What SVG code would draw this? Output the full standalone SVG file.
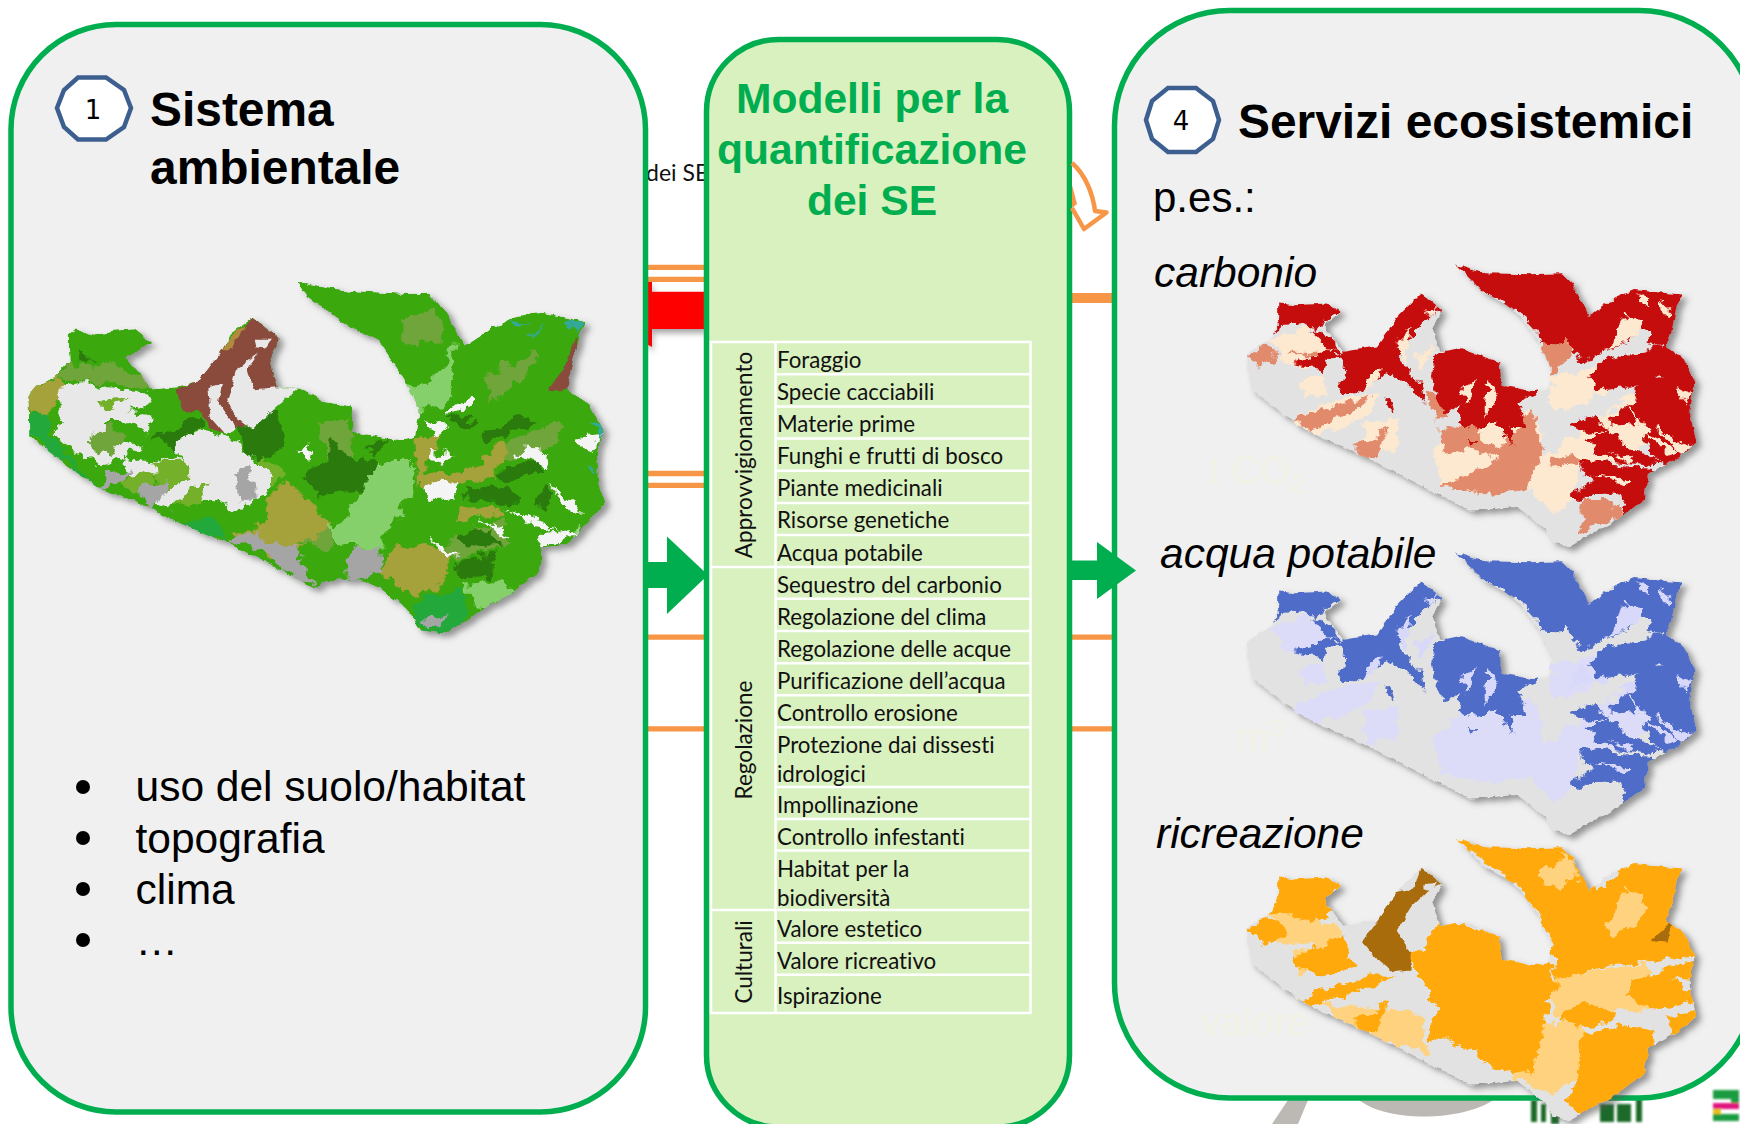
<svg xmlns="http://www.w3.org/2000/svg" xmlns:xlink="http://www.w3.org/1999/xlink" width="1740" height="1124" viewBox="0 0 1740 1124">
<style>
text{font-family:"Liberation Sans",Arial,sans-serif;fill:#000}
.panel{stroke:#00ae50;stroke-width:5.5;fill:#f0f0f0}
.h1{font-weight:700;font-size:47.9px}
.g{font-weight:700;font-size:42.6px;fill:#00ae50;text-anchor:middle}
.it{font-style:italic;font-size:42.5px}
.li{font-size:42.5px}
.faint{font-size:40px;fill:#f2f1e5}
.num{font-family:"DejaVu Sans",sans-serif;font-size:26px;text-anchor:middle}
.oct{fill:#fff;stroke:#3c5f8f;stroke-width:4.5}
.t{font-family:Lato,"Open Sans",sans-serif;font-size:22.3px;fill:#111;font-variant-ligatures:none}
.tr{text-anchor:middle;font-size:22.5px}
.grid{stroke:#fff;stroke-width:2.5;fill:none}
.o{stroke:#f79646;stroke-width:5.3;fill:none}
</style>
<defs>
<filter id="ds" x="-5%" y="-5%" width="112%" height="115%"><feDropShadow dx="5" dy="4" stdDeviation="3" flood-color="#555" flood-opacity=".6"/></filter>
<filter id="rs" x="-10%" y="-10%" width="120%" height="130%"><feDropShadow dx="1" dy="4" stdDeviation="3" flood-color="#555" flood-opacity=".55"/></filter>
<filter id="b1" x="-10%" y="-10%" width="120%" height="120%"><feGaussianBlur stdDeviation="1"/></filter>
<filter id="rough" x="-5%" y="-5%" width="110%" height="110%"><feTurbulence type="fractalNoise" baseFrequency=".028" numOctaves="3" seed="4"/><feDisplacementMap in="SourceGraphic" scale="42" xChannelSelector="R" yChannelSelector="G"/></filter>
<filter id="edge" x="-3%" y="-3%" width="106%" height="106%"><feTurbulence type="fractalNoise" baseFrequency=".05" numOctaves="2" seed="9"/><feDisplacementMap in="SourceGraphic" scale="14" xChannelSelector="R" yChannelSelector="G"/></filter>
<polygon id="outA" points="706,672 780,685 850,692 960,698 1020,698 1060,740 1105,822 1170,780 1225,750 1290,743 1392,765 1375,800 1365,840 1345,925 1400,960 1430,1020 1418,1100 1422,1150 1438,1195 1395,1245 1345,1295 1290,1300 1280,1360 1215,1410 1150,1445 1115,1470 1060,1505 1000,1498 970,1450 900,1395 860,1380 800,1375 745,1395 640,1340 540,1290 420,1240 330,1195 245,1165 150,1100 70,1035 67,930 130,895 165,860 163,795 180,780 220,795 270,785 320,782 360,815 300,850 320,875 360,925 420,920 465,910 530,830 550,790 600,755 665,805 640,850 660,920 710,920 770,955 835,965 838,1025 950,1048 985,1040 997,975 960,900 900,810 830,775 780,740 730,705"/>
<clipPath id="clipA"><use xlink:href="#outA"/></clipPath>
<polygon id="outB" points="850,742 920,765 1040,768 1118,765 1145,795 1185,885 1240,840 1300,812 1420,825 1405,870 1395,930 1380,975 1420,1000 1455,1070 1440,1150 1458,1240 1400,1290 1335,1330 1325,1400 1250,1460 1170,1510 1140,1530 1095,1520 1075,1480 1005,1420 950,1425 885,1430 760,1360 620,1280 480,1210 400,1150 328,1085 320,990 385,945 400,905 400,850 440,855 520,850 558,875 515,910 565,985 650,970 700,890 760,822 815,870 790,920 810,985 860,975 960,1015 965,1080 1045,1095 1085,1090 1090,1030 1060,960 1000,870 920,820"/>
<clipPath id="clipB"><use xlink:href="#outB"/></clipPath>
<g id="forest">
<polygon points="830,725 1130,740 1210,885 1160,890 1140,930 1115,965 1060,960 1035,900 1000,870 920,820"/>
<polygon points="1130,940 1150,880 1240,830 1300,795 1440,810 1415,870 1405,930 1395,975 1340,960 1320,900 1285,960 1210,990 1170,1010 1145,990"/>
<polygon points="1215,1010 1380,965 1430,990 1470,1060 1425,1080 1370,1050 1330,1075 1290,1080 1215,1100 1185,1060"/>
<polygon points="1330,1060 1470,1050 1470,1250 1400,1300 1360,1285 1320,1225 1345,1200 1300,1170 1290,1130 1240,1160 1250,1195 1300,1190 1280,1120"/>
<polygon points="1170,1230 1240,1200 1280,1250 1370,1290 1340,1305 1250,1290"/>
<polygon points="1160,1290 1250,1300 1350,1315 1340,1415 1270,1470 1260,1380 1210,1380 1150,1405 1145,1380 1190,1350"/>
<polygon points="795,990 860,960 975,1000 980,1075 1060,1090 1010,1130 1030,1190 985,1190 1000,1250 960,1180 900,1210 860,1180 855,1130 820,1160 790,1060"/>
<polygon points="555,985 640,965 695,885 760,805 830,865 790,880 745,930 705,1000 745,1050 775,1135 720,1070 680,1040 640,1070 590,1105 545,1090 565,1040"/>
<polygon points="385,835 440,840 535,835 572,875 510,895 490,925 430,905 390,930"/>
<polygon points="480,920 520,940 565,985 530,975"/>
<polygon points="445,1020 530,980 560,985 500,1035"/>
<polygon points="660,1110 690,1120 700,1160 680,1140"/>
<polygon points="1140,1190 1200,1170 1240,1200 1170,1210"/>
<polygon points="880,1220 905,1230 890,1250"/>
<polygon points="975,1190 1000,1240 970,1220"/>
</g>
<g id="speck">
<polygon points="1255,1120 1310,1090 1300,1130"/><polygon points="1320,1210 1410,1260 1390,1275"/><polygon points="1350,1195 1440,1250 1420,1270"/><polygon points="1200,1100 1240,1070 1230,1110"/><polygon points="1410,1090 1445,1100 1430,1130"/><polygon points="1190,1330 1290,1345 1280,1360"/><polygon points="1230,1260 1300,1280 1290,1295"/><polygon points="860,1090 900,1060 880,1130"/><polygon points="930,1050 950,1120 920,1170"/><polygon points="700,970 730,920 720,1010"/><polygon points="745,1000 790,960 760,1040"/><polygon points="620,1060 665,1030 630,1090"/><polygon points="1310,830 1340,830 1330,860"/><polygon points="1370,840 1395,860 1380,890"/><polygon points="770,870 805,865 785,885"/>
<polygon points="1130,1120 1160,1050 1200,1100"/><polygon points="1290,880 1330,900 1280,960 1230,980"/>
</g>
<g id="mid">
<polygon points="385,945 470,920 560,985 480,1040 400,1000"/>
<polygon points="1060,1290 1170,1210 1280,1120 1340,1070 1400,1090 1300,1290 1170,1300 1140,1400 1100,1440 1030,1360"/>
<polygon points="800,1260 860,1190 960,1180 1030,1150 1070,1200 1060,1350 950,1390 810,1360"/>
<polygon points="1060,850 1075,820 1115,810 1120,775 1150,800 1150,850 1110,880 1070,870"/>
<polygon points="1090,1060 1210,1020 1190,1130 1100,1150"/>
<polygon points="450,1070 500,1050 530,1100 470,1120"/>
<polygon points="430,1180 520,1130 660,1100 620,1170 500,1220"/>
<polygon points="610,1190 700,1170 690,1260 620,1280"/>
</g>
<g id="high">
<polygon points="1070,960 1135,940 1140,1000 1090,1060 1060,1000"/>
<polygon points="320,990 370,965 400,1010 340,1030"/>
<polygon points="770,1090 800,1100 830,1170 800,1180"/>
<polygon points="800,1210 880,1190 960,1260 1040,1150 1070,1260 1030,1360 950,1390 810,1360 870,1330 960,1290 880,1260 830,1270"/>
<polygon points="1170,1400 1240,1400 1270,1450 1170,1490"/>
<polygon points="440,1170 640,1110 600,1150 480,1205"/>
<polygon points="590,1250 680,1200 650,1280 610,1280"/>
<polygon points="1080,1290 1150,1270 1170,1300 1090,1310"/>
<polygon points="430,985 540,985 470,1000"/>
</g>
</defs>

<g id="background-fragments">
<polygon points="1288,1100 1308,1100 1298,1124 1272,1124" fill="#bcb8b4"/>
<path d="M1359,1100H1493C1465,1120 1390,1124 1359,1100Z" fill="#bcb8b4"/>
<g fill="#1d6b2b" filter="url(#b1)"><rect x="1531" y="1100" width="6" height="22"/><rect x="1541" y="1104" width="5" height="18"/><rect x="1551" y="1104" width="8" height="20"/><rect x="1600" y="1104" width="14" height="18"/><rect x="1617" y="1104" width="14" height="18"/><rect x="1636" y="1098" width="6" height="24"/></g>
<g filter="url(#b1)"><rect x="1713" y="1090" width="26" height="9" fill="#1f9c3f"/><rect x="1731" y="1099" width="8" height="6" fill="#1f9c3f"/><rect x="1713" y="1103" width="26" height="6" fill="#e0157e"/><rect x="1713" y="1109" width="8" height="5" fill="#e8c21a"/><rect x="1713" y="1114" width="26" height="7" fill="#1f9c3f"/></g>
</g>

<text x="646" y="180.500" class="t" style="font-size:23px">dei SE</text>

<g id="connectors">
<g class="o">
<path d="M646 267.300H706M646 279.300H706M646 473.500H706M646 485.300H706M646 637.200H706M646 728.800H706"/>
<path d="M1070 298H1115" stroke-width="10"/>
<path d="M1070 637.200H1115M1070 728.800H1115"/>
</g>
<g filter="url(#rs)"><path d="M648 282H652V291.700H706V329H652V347L648 345Z" fill="#f00"/></g>
</g>

<g id="node-1">
<rect class="panel" x="11" y="24.500" width="634.500" height="1087.500" rx="105" ry="105"/>
<polygon class="oct" points="78,77.500 106,77.500 124,90 131,108 124,127 106,139.500 78,139.500 64,127 57,108 64,90"/>
<text class="num" x="93" y="119">1</text>
<text class="h1" x="150" y="126">Sistema</text>
<text class="h1" x="150" y="184">ambientale</text>
<g filter="url(#ds)"><g transform="scale(.4209)"><g filter="url(#edge)"><g clip-path="url(#clipA)">
<use xlink:href="#outA" fill="#3aa80e"/>
<g filter="url(#rough)">
<g fill="#22a83a"><polygon points="70,975 110,990 125,1040 180,1100 245,1165 150,1100 70,1035"/><polygon points="1010,1420 1100,1400 1115,1470 1060,1505 1000,1498 970,1450"/><polygon points="420,1240 500,1230 540,1290"/></g>
<g fill="#6fa53a"><polygon points="165,870 250,860 300,880 340,900 360,925 200,905 130,895"/><polygon points="1190,1060 1330,1000 1340,1020 1280,1080 1200,1090"/><polygon points="1150,900 1270,830 1280,870 1160,960"/><polygon points="950,770 1040,725 1050,810 960,820"/><polygon points="750,1000 830,1000 840,1090 780,1090"/><polygon points="640,1190 790,1250 800,1300 720,1300"/><polygon points="1040,1300 1190,1230 1210,1300 1080,1330"/></g>
<g fill="#a5a13b"><polygon points="67,930 130,895 170,920 130,960 110,990 70,970"/><polygon points="630,1190 680,1140 750,1200 790,1250 740,1290 640,1280"/><polygon points="900,1360 930,1300 1010,1290 1070,1320 1060,1380 990,1420 950,1400"/><polygon points="1000,1130 1180,1100 1180,1140 1000,1155"/><polygon points="1090,1210 1180,1200 1190,1220 1080,1240"/><polygon points="1150,1080 1200,1050 1200,1100 1150,1105"/><polygon points="990,1040 1050,1030 1010,1130 990,1160"/><polygon points="560,1260 640,1240 720,1300 640,1330"/></g>
<g fill="#e8e8e8"><polygon points="135,920 200,905 260,925 355,930 365,950 300,975 350,975 370,1000 340,1030 290,1000 240,1000 300,1050 340,1060 300,1085 240,1110 190,1085 130,1040 150,990"/><polygon points="400,1055 480,1020 560,1040 600,1090 650,1130 630,1180 560,1210 510,1190 450,1180 400,1210 370,1190 440,1140 380,1130 350,1100 430,1085"/><polygon points="290,1090 380,1100 370,1130 300,1130"/></g>
<g fill="#74b02a"><polygon points="360,1100 440,1090 450,1130 400,1170 365,1150"/><polygon points="590,1040 640,1090 680,1130 650,1150 620,1100"/><polygon points="440,1170 500,1140 470,1190 420,1205"/><polygon points="280,1140 360,1120 360,1165 300,1170"/><polygon points="220,950 300,945 250,980"/></g>
<polygon points="215,1040 250,1005 300,1040 270,1080 225,1070" fill="#6fa53a"/>
<g fill="#2a7a0a"><polygon points="560,1020 600,1010 640,940 660,1000 680,1050 640,1080 600,1090"/><polygon points="1075,1340 1180,1310 1170,1370 1085,1375"/><polygon points="1090,1265 1170,1260 1190,1300 1100,1300"/><polygon points="1180,1120 1280,1090 1290,1120 1210,1145"/><polygon points="1100,1165 1200,1160 1250,1190 1110,1190"/><polygon points="1270,1180 1300,1155 1310,1190 1280,1210"/><polygon points="1140,1030 1240,985 1280,1005 1220,1030 1150,1050"/><polygon points="1065,995 1110,995 1140,1010 1100,1020"/><polygon points="720,1130 780,1090 780,1040 830,1090 900,1085 910,1130 850,1170 800,1170 760,1180"/><polygon points="865,1060 930,1040 890,1080"/><polygon points="360,1040 480,985 490,1010 400,1060"/><polygon points="185,850 220,850 190,865"/></g>
<g fill="#85d06a"><polygon points="800,1260 900,1100 985,1100 975,1190 930,1240 900,1310 810,1300 770,1240"/><polygon points="960,900 1000,910 1050,880 1080,810 1070,930 1040,965 990,970"/><polygon points="1100,1390 1190,1370 1215,1410 1130,1450"/></g>
<g fill="#a5a5a5"><polygon points="250,1130 310,1110 280,1150 245,1165"/><polygon points="320,1165 400,1140 400,1170 360,1200 340,1190"/><polygon points="540,1280 600,1255 640,1290 700,1290 745,1395 700,1375 640,1320 580,1300"/><polygon points="830,1320 900,1290 905,1360 850,1380 820,1360"/><polygon points="1000,1470 1070,1465 1040,1490 1005,1495"/><polygon points="560,1130 590,1110 610,1190 570,1190"/></g>
<g fill="#f4f4f4"><polygon points="1050,985 1120,945 1135,950 1090,985"/><polygon points="1005,1000 1060,1010 1040,1040"/><polygon points="1020,1070 1080,1080 1040,1105"/><polygon points="1365,1040 1425,1030 1405,1075"/><polygon points="1230,1070 1310,1075 1300,1110 1240,1090"/><polygon points="1190,1205 1330,1260 1260,1250"/><polygon points="1300,1150 1390,1220 1360,1220"/><polygon points="1275,1270 1370,1255 1330,1295 1285,1295"/><polygon points="1010,1150 1090,1145 1080,1185 1015,1185"/><polygon points="1020,1280 1090,1320 1060,1320"/><polygon points="1140,1230 1220,1270 1200,1275"/><polygon points="710,1080 745,1050 730,1100"/></g>
<g fill="#33a99a"><polygon points="1215,758 1250,765 1230,772"/><polygon points="1265,790 1300,770 1270,805"/><polygon points="1350,770 1392,770 1375,800"/><polygon points="1395,1000 1430,1010 1420,1040"/><polygon points="1400,1110 1420,1110 1415,1130"/></g>
</g>
<polygon points="420,925 465,910 530,825 600,755 665,805 640,850 660,920 620,950 585,1010 555,1020 535,1030 500,1020 480,980 430,975" fill="#8a4b3e"/>
<polygon points="530,830 560,785 585,775 545,830" fill="#b08a3e"/>
<g fill="#e8e8e8"><polygon points="605,805 645,805 630,828 610,825"/><polygon points="560,880 615,840 585,880 605,925 660,920 710,920 640,980 600,1020 560,990 540,950"/><polygon points="495,920 530,910 520,960 560,1020 535,1030 500,990"/></g>
<polygon points="1300,925 1345,870 1365,800 1370,820 1350,925 1330,930" fill="#8a4b3e"/>
</g></g></g></g>
<g>
<circle cx="83" cy="787" r="7"/><circle cx="83" cy="838" r="7"/><circle cx="83" cy="889" r="7"/><circle cx="83" cy="940" r="7"/>
<text class="li" x="135.500" y="801">uso del suolo/habitat</text>
<text class="li" x="135.500" y="853">topografia</text>
<text class="li" x="135.500" y="904">clima</text>
<text class="li" x="135.500" y="955">…</text>
</g>
</g>

<g id="node-2">
<rect class="panel" style="fill:#d9f0bf" x="706.500" y="39.500" width="363" height="1087.500" rx="72" ry="72"/>
<text class="g" x="872" y="113">Modelli per la</text>
<text class="g" x="872" y="164">quantificazione</text>
<text class="g" x="872" y="215">dei SE</text>
<g id="se-table">
<path class="grid" d="M711 342H1030.500V1013H711ZM775.500 342V1013M711 567H1030.500M711 910H1030.500M775.500 374.300H1030.500M775.500 406.400H1030.500M775.500 438.600H1030.500M775.500 470.700H1030.500M775.500 502.900H1030.500M775.500 535H1030.500M775.500 598.800H1030.500M775.500 630.900H1030.500M775.500 663.200H1030.500M775.500 695.300H1030.500M775.500 727.300H1030.500M775.500 787H1030.500M775.500 819H1030.500M775.500 850.600H1030.500M775.500 942.700H1030.500M775.500 974.800H1030.500"/>
<text class="t tr" transform="translate(752 455) rotate(-90)">Approvvigionamento</text>
<text class="t tr" transform="translate(752 740) rotate(-90)">Regolazione</text>
<text class="t tr" transform="translate(752 962) rotate(-90)">Culturali</text>
<text class="t" x="777" y="367.500">Foraggio</text>
<text class="t" x="777" y="399.500">Specie cacciabili</text>
<text class="t" x="777" y="432">Materie prime</text>
<text class="t" x="777" y="464">Funghi e frutti di bosco</text>
<text class="t" x="777" y="496">Piante medicinali</text>
<text class="t" x="777" y="528">Risorse genetiche</text>
<text class="t" x="777" y="560.500">Acqua potabile</text>
<text class="t" x="777" y="592.500">Sequestro del carbonio</text>
<text class="t" x="777" y="624.500">Regolazione del clima</text>
<text class="t" x="777" y="656.500">Regolazione delle acque</text>
<text class="t" x="777" y="688.500">Purificazione dell’acqua</text>
<text class="t" x="777" y="720.500">Controllo erosione</text>
<text class="t" x="777" y="752.500">Protezione dai dissesti</text>
<text class="t" x="777" y="781.500">idrologici</text>
<text class="t" x="777" y="812.500">Impollinazione</text>
<text class="t" x="777" y="844.500">Controllo infestanti</text>
<text class="t" x="777" y="876.500">Habitat per la</text>
<text class="t" x="777" y="905.500">biodiversità</text>
<text class="t" x="777" y="936.500">Valore estetico</text>
<text class="t" x="777" y="968.500">Valore ricreativo</text>
<text class="t" x="777" y="1003.500">Ispirazione</text>
</g>
</g>

<g id="node-3">
<rect class="panel" x="1114.500" y="10.500" width="640" height="1087.500" rx="115" ry="115"/>
<polygon class="oct" points="1168,88 1196,88 1213,101 1219,120 1213,139 1196,152 1168,152 1152,139 1146,120 1152,101"/>
<text class="num" x="1181" y="130">4</text>
<text class="h1" x="1238" y="137.500">Servizi ecosistemici</text>
<text x="1153" y="212" style="font-size:42px">p.es.:</text>
<text class="it" x="1154" y="287">carbonio</text>
<text class="faint" x="1209" y="484">t CO<tspan dy="8" font-size="26">2</tspan></text>
<g filter="url(#ds)"><g transform="translate(1120 0) scale(.3954 .3571)"><g filter="url(#edge)"><g clip-path="url(#clipB)">
<use xlink:href="#outB" fill="#e2e2e2"/>
<g filter="url(#rough)">
<use xlink:href="#mid" fill="#fde8d0"/>
<use xlink:href="#high" fill="#e28a6c"/>
<use xlink:href="#forest" fill="#c50a0a"/>
<use xlink:href="#speck" fill="#fde8d0"/>
</g>
</g></g></g></g>
<text class="it" x="1160" y="568">acqua potabile</text>
<text class="faint" x="1236" y="751">m<tspan dy="-14" font-size="26">3</tspan></text>
<g filter="url(#ds)"><g transform="translate(1120 288) scale(.3954 .3571)"><g filter="url(#edge)"><g clip-path="url(#clipB)">
<use xlink:href="#outB" fill="#e2e2e2"/>
<g filter="url(#rough)">
<use xlink:href="#mid" fill="#dcdcf8"/>
<use xlink:href="#forest" fill="#4f6cc8"/>
<use xlink:href="#speck" fill="#d8d8fb"/>
</g>
</g></g></g></g>
<text class="it" x="1156" y="848">ricreazione</text>
<text class="faint" x="1201" y="1036">valore</text>
<g filter="url(#ds)"><g transform="translate(1120 574) scale(.3954 .3571)"><g filter="url(#edge)"><g clip-path="url(#clipB)">
<use xlink:href="#outB" fill="#e2e2e2"/>
<g filter="url(#rough)">
<g fill="#ffd27f">
<polygon points="385,940 560,985 540,1050 400,1030"/>
<polygon points="440,1060 510,1050 520,1110 450,1120"/>
<polygon points="500,1200 760,1230 780,1340 620,1290"/>
<polygon points="1100,1125 1340,1090 1340,1220 1100,1240"/>
<polygon points="1000,1260 1180,1250 1170,1400 1100,1450 1000,1420"/>
</g>
<g fill="#ffa907">
<polygon points="830,725 1130,740 1200,885 1300,795 1440,810 1395,990 1430,990 1475,1070 1300,1090 1230,1100 1110,1130 1090,1040 1060,960 1000,870"/>
<polygon points="385,835 535,835 572,875 515,910 540,950 480,970 385,945"/>
<polygon points="800,975 975,1000 980,1075 1100,1090 1105,1160 1070,1260 1050,1390 990,1400 930,1380 880,1330 780,1300 800,1220 770,1150 730,1080"/>
<polygon points="1170,1290 1260,1260 1355,1280 1340,1420 1250,1480 1170,1520 1130,1480 1160,1400"/>
<polygon points="1300,1130 1475,1080 1460,1200 1360,1220 1280,1180"/>
<polygon points="310,990 380,960 420,1000 370,1045"/>
<polygon points="430,1080 560,1010 600,1100 500,1130"/>
<polygon points="440,1190 620,1130 700,1130 600,1170 480,1210"/>
<polygon points="590,1250 680,1200 650,1280 610,1280"/>
<polygon points="1110,1250 1180,1190 1260,1240 1180,1270"/>
<polygon points="1380,1240 1475,1220 1400,1295"/>
</g>
<polygon points="1060,850 1075,820 1115,810 1120,775 1150,800 1150,850 1110,880 1070,870" fill="#ffd27f"/>
<polygon points="1240,1020 1320,960 1330,900 1290,880 1230,980" fill="#ffd27f"/>
<g fill="#e2e2e2"><polygon points="700,1000 750,950 790,990 770,1050 730,1070"/><polygon points="1395,1130 1450,1130 1430,1170"/></g>
</g>
<polygon points="612,1030 650,970 700,890 745,880 760,822 815,870 785,880 740,930 700,1000 735,1060 735,1110 690,1115 640,1070" fill="#a96c08"/>
<polygon points="770,868 805,865 785,885 770,880" fill="#e2e2e2"/>
<polygon points="1345,1025 1385,985 1420,885 1410,900 1385,1030" fill="#a96c08"/>
</g></g></g></g>
</g>

<g id="connectors-front">
<path d="M646 562H667V536.500L708 575L667 614V588H646Z" fill="#00ae50"/>
<path d="M1072 560.600H1097V542L1136 570.500L1097 599V580H1072Z" fill="#00ae50"/>
<path d="M1072 163C1086 175 1093 195 1095 211L1106.500 212.500L1084 229L1072 208" fill="#fff" stroke="#f79646" stroke-width="4.500" stroke-linejoin="round"/>
<polygon points="1072,185 1077,204 1072,208" fill="#f79646"/>
</g>
</svg>
